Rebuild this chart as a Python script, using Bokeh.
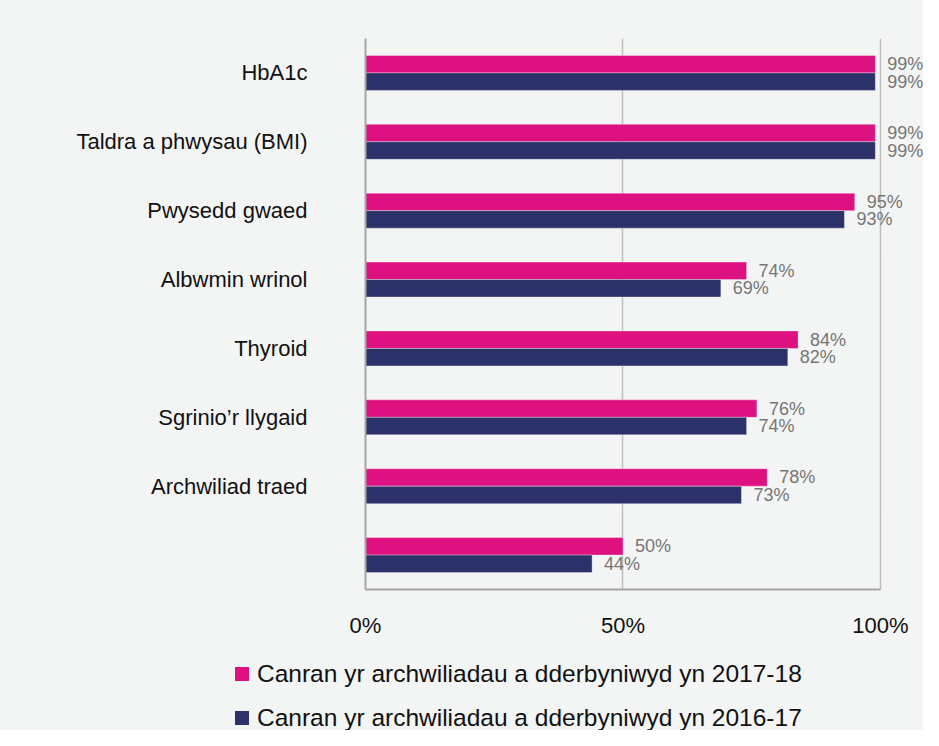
from bokeh.plotting import figure
from bokeh.models import (ColumnDataSource, FactorRange, Range1d, FixedTicker, Div)
from bokeh.layouts import column
from bokeh.transform import dodge
from bokeh.embed import file_html
from bokeh.resources import INLINE

categories = ["HbA1c", "Taldra a phwysau (BMI)", "Pwysedd gwaed", "Albwmin wrinol",
              "Thyroid", "Sgrinio\u2019r llygaid", "Archwiliad traed", " "]
series_2017_18 = [99, 99, 95, 74, 84, 76, 78, 50]
series_2016_17 = [99, 99, 93, 69, 82, 74, 73, 44]
series_names = ["Canran yr archwiliadau a dderbyniwyd yn 2017-18",
                "Canran yr archwiliadau a dderbyniwyd yn 2016-17"]
x_ticks = [0, 50, 100]
x_tick_labels = ["0%", "50%", "100%"]

PINK = "#DD1180"
NAVY = "#2C3169"
BG = "#F3F4F4"
FONT = "Liberation Sans"
TXT = "#111111"

src = ColumnDataSource(dict(
    cat=categories,
    a=series_2017_18,
    b=series_2016_17,
    a_lbl=[f"{v}%" for v in series_2017_18],
    b_lbl=[f"{v}%" for v in series_2016_17],
))

p = figure(y_range=FactorRange(factors=categories[::-1]), x_range=Range1d(0, 108.35),
           frame_width=558, frame_height=551,
           min_border_left=365, min_border_right=0, min_border_top=38, min_border_bottom=51,
           output_backend="svg", toolbar_location=None,
           background_fill_color=BG, border_fill_color=BG)
p.outline_line_color = None

bh = 0.254
off = 0.127
r1 = p.hbar(y=dodge("cat", off, range=p.y_range), right="a", left=0, height=bh, source=src,
            fill_color=PINK, line_color="white", line_alpha=0.35, line_width=1)
r2 = p.hbar(y=dodge("cat", -off, range=p.y_range), right="b", left=0, height=bh, source=src,
            fill_color=NAVY, line_color="white", line_alpha=0.35, line_width=1)

p.text(x="a", y=dodge("cat", off, range=p.y_range), text="a_lbl", source=src,
       x_offset=12, text_align="left", text_baseline="middle",
       text_font_size="18px", text_color="#767676", text_font={"value": FONT})
p.text(x="b", y=dodge("cat", -off, range=p.y_range), text="b_lbl", source=src,
       x_offset=12, text_align="left", text_baseline="middle",
       text_font_size="18px", text_color="#767676", text_font={"value": FONT})

# grid
p.ygrid.grid_line_color = None
p.xgrid.ticker = FixedTicker(ticks=x_ticks)
p.xgrid.grid_line_color = "#BFBFBF"
p.xgrid.grid_line_width = 1.5

# x axis
xa = p.xaxis[0]
xa.ticker = FixedTicker(ticks=x_ticks)
xa.major_label_overrides = {t: l for t, l in zip(x_ticks, x_tick_labels)}
xa.bounds = (0, 100)
xa.axis_line_color = "#A6A6A6"
xa.axis_line_width = 2
xa.major_tick_line_color = None
xa.minor_tick_line_color = None
xa.major_label_standoff = 17
xa.major_label_text_font_size = "22px"
xa.major_label_text_color = TXT
xa.major_label_text_font = FONT

# y axis
ya = p.yaxis[0]
ya.axis_line_color = "#A6A6A6"
ya.axis_line_width = 2
ya.major_tick_line_color = None
ya.minor_tick_line_color = None
ya.major_label_standoff = 52
ya.major_label_text_font_size = "22px"
ya.major_label_text_color = TXT
ya.major_label_text_font = FONT

# legend strip below the chart
rows = []
for i, (name, col) in enumerate(zip(series_names, [PINK, NAVY])):
    rows.append(
        f'<div style="display:flex;align-items:center;height:28px;margin-top:{20 if i == 0 else 16}px;">'
        f'<span style="display:inline-block;width:14px;height:14px;background:{col};margin-right:8px;"></span>'
        f'<span>{name}</span></div>'
    )
legend_html = (
    f'<div style="width:923px;height:90px;background:{BG};box-sizing:border-box;'
    f'padding-left:235px;overflow:hidden;font-family:\'{FONT}\';font-size:24.5px;'
    f'color:{TXT};line-height:28px;white-space:nowrap;">' + "".join(rows) + "</div>"
)
leg = Div(text=legend_html, width=923, height=90, margin=0,
          styles={"background-color": BG})

layout = column(p, leg, spacing=0, styles={"background-color": BG})
open("out.html", "w").write(file_html(layout, INLINE))
